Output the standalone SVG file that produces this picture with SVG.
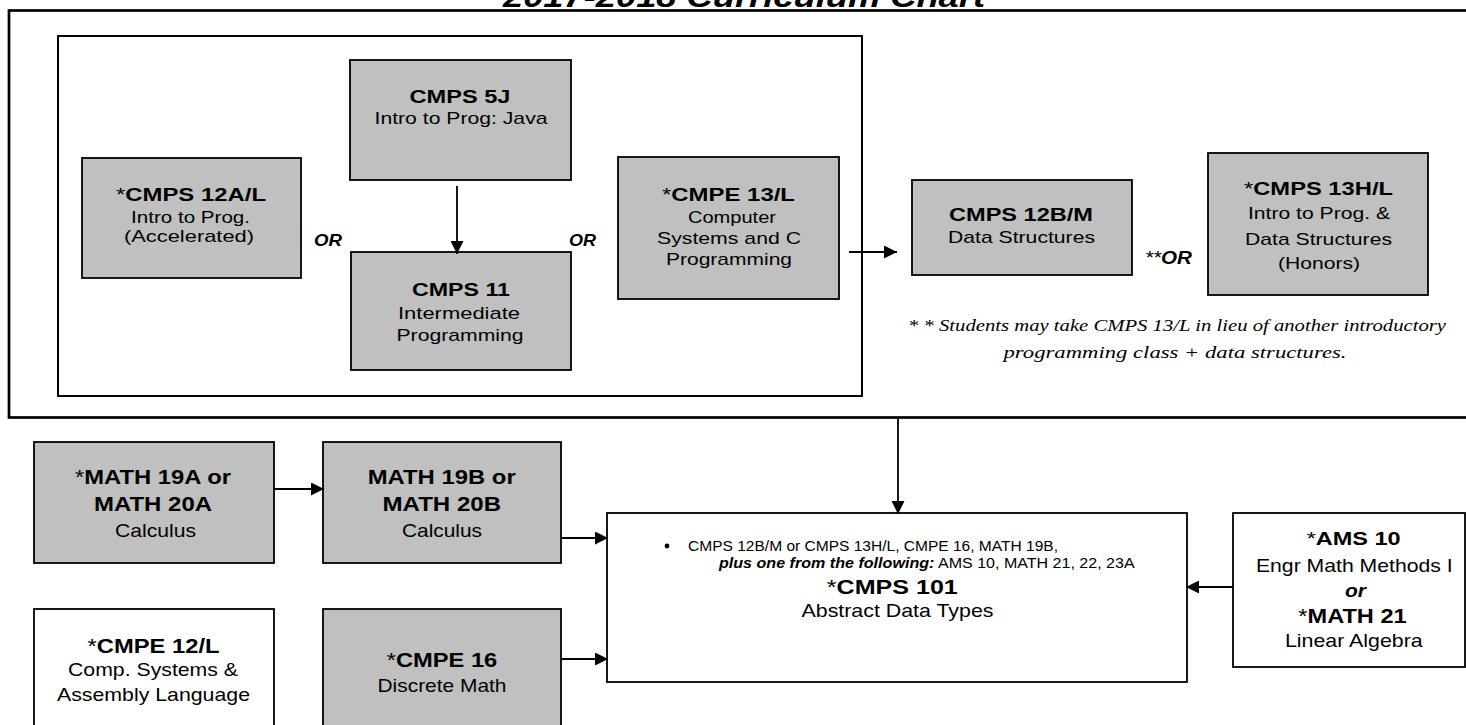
<svg xmlns="http://www.w3.org/2000/svg" width="1466" height="725" viewBox="0 0 1466 725">
<style>
text { font-family: "Liberation Sans", Arial, sans-serif; text-anchor: middle; fill: #000; }
.st { text-anchor: start; }
.b { font-weight: bold; }
.n { font-weight: normal; }
.bi { font-weight: bold; font-style: italic; }
.t1 { font-size: 19px; }
.t2 { font-size: 17px; }
.t3 { font-size: 21px; }
.t4 { font-size: 19px; }
.sm { font-size: 14px; }
.fn { font-family: "Liberation Serif", "Times New Roman", serif; font-style: italic; font-size: 17px; }
.gray { fill: #C0C0C0; stroke: #000; stroke-width: 1.8; }
.white { fill: #FFFFFF; stroke: #000; stroke-width: 1.8; }
.frame { fill: none; stroke: #000; }
.conn { fill: none; stroke: #000; stroke-width: 1.8; marker-end: url(#ah); }
</style>
<defs>
<marker id="ah" markerUnits="userSpaceOnUse" markerWidth="14" markerHeight="13" refX="13" refY="6.5" orient="auto">
<path d="M0,0 L13,6.5 L0,13 Z" fill="#000"/>
</marker>
</defs>
<rect width="1466" height="725" fill="#FFFFFF"/>

<g id="title">
<text class="bi" style="font-size:30px" x="744" y="7" textLength="482" lengthAdjust="spacingAndGlyphs">2017-2018 Curriculum Chart</text>
</g>

<g id="frames">
<rect class="frame" x="9" y="10.5" width="1480" height="407" stroke-width="2.7"/>
<rect class="frame" x="58" y="36" width="804" height="360" stroke-width="2"/>
</g>

<g id="cmps12al">
<rect class="gray" x="82" y="158" width="219" height="120"/>
<text class="t1 b" x="191" y="201" textLength="150" lengthAdjust="spacingAndGlyphs"><tspan class="n">*</tspan>CMPS 12A/L</text>
<text class="t2" x="190.5" y="223" textLength="119" lengthAdjust="spacingAndGlyphs">Intro to Prog.</text>
<text class="t2" x="189" y="242" textLength="130" lengthAdjust="spacingAndGlyphs">(Accelerated)</text>
</g>

<g id="cmps5j">
<rect class="gray" x="350" y="60" width="221" height="120"/>
<text class="t1 b" x="460" y="102.5" textLength="101" lengthAdjust="spacingAndGlyphs">CMPS 5J</text>
<text class="t2" x="461" y="124" textLength="173" lengthAdjust="spacingAndGlyphs">Intro to Prog: Java</text>
</g>

<g id="cmps11">
<rect class="gray" x="351" y="252" width="220" height="118"/>
<text class="t1 b" x="461" y="296" textLength="98" lengthAdjust="spacingAndGlyphs">CMPS 11</text>
<text class="t2" x="459" y="319" textLength="122" lengthAdjust="spacingAndGlyphs">Intermediate</text>
<text class="t2" x="460" y="341" textLength="127" lengthAdjust="spacingAndGlyphs">Programming</text>
</g>

<g id="or-labels">
<text class="bi t2" x="328" y="246" textLength="28" lengthAdjust="spacingAndGlyphs">OR</text>
<text class="bi t2" x="582.5" y="246" textLength="27" lengthAdjust="spacingAndGlyphs">OR</text>
<text class="bi" style="font-size:18px" x="1168.5" y="264" textLength="47" lengthAdjust="spacingAndGlyphs"><tspan class="n" style="font-style:italic">**</tspan>OR</text>
</g>

<g id="cmpe13l">
<rect class="gray" x="618" y="157" width="221" height="142"/>
<text class="t1 b" x="728.5" y="201" textLength="133" lengthAdjust="spacingAndGlyphs"><tspan class="n">*</tspan>CMPE 13/L</text>
<text class="t2" x="732" y="223" textLength="88" lengthAdjust="spacingAndGlyphs">Computer</text>
<text class="t2" x="729" y="244" textLength="144" lengthAdjust="spacingAndGlyphs">Systems and C</text>
<text class="t2" x="729" y="265" textLength="126" lengthAdjust="spacingAndGlyphs">Programming</text>
</g>

<g id="cmps12bm">
<rect class="gray" x="912" y="180" width="220" height="95"/>
<text class="t1 b" x="1021" y="221" textLength="144" lengthAdjust="spacingAndGlyphs">CMPS 12B/M</text>
<text class="t2" x="1021.5" y="243" textLength="147" lengthAdjust="spacingAndGlyphs">Data Structures</text>
</g>

<g id="cmps13hl">
<rect class="gray" x="1208" y="153" width="220" height="142"/>
<text class="t1 b" x="1318.5" y="195" textLength="149" lengthAdjust="spacingAndGlyphs"><tspan class="n">*</tspan>CMPS 13H/L</text>
<text class="t2" x="1319" y="219" textLength="142" lengthAdjust="spacingAndGlyphs">Intro to Prog. &amp;</text>
<text class="t2" x="1318.5" y="245" textLength="147" lengthAdjust="spacingAndGlyphs">Data Structures</text>
<text class="t2" x="1319" y="269" textLength="82" lengthAdjust="spacingAndGlyphs">(Honors)</text>
</g>

<g id="footnote">
<text class="fn" x="1177" y="331" textLength="538" lengthAdjust="spacingAndGlyphs">* * Students may take CMPS 13/L in lieu of another introductory</text>
<text class="fn" x="1175" y="358" textLength="343" lengthAdjust="spacingAndGlyphs">programming class + data structures.</text>
</g>

<g id="math19a">
<rect class="gray" x="34" y="442" width="240" height="121"/>
<text class="t3 b" x="153" y="484" textLength="156" lengthAdjust="spacingAndGlyphs"><tspan class="n">*</tspan>MATH 19A or</text>
<text class="t3 b" x="153" y="510.7" textLength="118" lengthAdjust="spacingAndGlyphs">MATH 20A</text>
<text class="t4" x="155.5" y="536.7" textLength="81" lengthAdjust="spacingAndGlyphs">Calculus</text>
</g>

<g id="math19b">
<rect class="gray" x="323" y="442" width="238" height="121"/>
<text class="t3 b" x="441.7" y="484" textLength="148" lengthAdjust="spacingAndGlyphs">MATH 19B or</text>
<text class="t3 b" x="441.8" y="510.7" textLength="118.6" lengthAdjust="spacingAndGlyphs">MATH 20B</text>
<text class="t4" x="442" y="536.7" textLength="80" lengthAdjust="spacingAndGlyphs">Calculus</text>
</g>

<g id="cmpe12l">
<rect class="white" x="34" y="609" width="240" height="130"/>
<text class="t3 b" x="153.5" y="653.3" textLength="132" lengthAdjust="spacingAndGlyphs"><tspan class="n">*</tspan>CMPE 12/L</text>
<text class="t4" x="153" y="675.5" textLength="170" lengthAdjust="spacingAndGlyphs">Comp. Systems &amp;</text>
<text class="t4" x="153.5" y="701" textLength="193" lengthAdjust="spacingAndGlyphs">Assembly Language</text>
</g>

<g id="cmpe16">
<rect class="gray" x="323" y="609" width="238" height="130"/>
<text class="t3 b" x="442" y="666.7" textLength="110.6" lengthAdjust="spacingAndGlyphs"><tspan class="n">*</tspan>CMPE 16</text>
<text class="t4" x="442" y="691.7" textLength="129" lengthAdjust="spacingAndGlyphs">Discrete Math</text>
</g>

<g id="cmps101">
<rect class="white" x="607" y="513" width="580" height="169"/>
<circle cx="667" cy="546" r="2.4" fill="#000"/>
<text class="sm st" x="688" y="550.7" textLength="370" lengthAdjust="spacingAndGlyphs">CMPS 12B/M or CMPS 13H/L, CMPE 16, MATH 19B,</text>
<text class="sm st bi" x="719" y="568.3" textLength="215.4" lengthAdjust="spacingAndGlyphs">plus one from the following:</text>
<text class="sm st" x="938" y="568.3" textLength="196.6" lengthAdjust="spacingAndGlyphs">AMS 10, MATH 21, 22, 23A</text>
<text class="b" style="font-size:20px" x="892.3" y="594" textLength="131" lengthAdjust="spacingAndGlyphs"><tspan class="n">*</tspan>CMPS 101</text>
<text class="t4" x="897.5" y="616.7" textLength="192" lengthAdjust="spacingAndGlyphs">Abstract Data Types</text>
</g>

<g id="ams10">
<rect class="white" x="1233" y="513" width="232" height="154"/>
<text class="t4 b" x="1353.7" y="545" textLength="94" lengthAdjust="spacingAndGlyphs"><tspan class="n">*</tspan>AMS 10</text>
<text class="t4" x="1354.3" y="571.7" textLength="196.7" lengthAdjust="spacingAndGlyphs">Engr Math Methods I</text>
<text class="t4 bi" x="1355.5" y="596.7" textLength="21" lengthAdjust="spacingAndGlyphs">or</text>
<text class="t3 b" x="1352.5" y="623.3" textLength="108.3" lengthAdjust="spacingAndGlyphs"><tspan class="n">*</tspan>MATH 21</text>
<text class="t4" x="1353.8" y="646.7" textLength="137.7" lengthAdjust="spacingAndGlyphs">Linear Algebra</text>
</g>

<g id="connectors">
<path class="conn" d="M457,186 V254"/>
<path class="conn" d="M849,252 H897"/>
<path class="conn" d="M898,419 V514"/>
<path class="conn" d="M274,489 H324"/>
<path class="conn" d="M561,538 H608"/>
<path class="conn" d="M561,659 H608"/>
<path class="conn" d="M1233,587 H1186"/>
</g>
</svg>
